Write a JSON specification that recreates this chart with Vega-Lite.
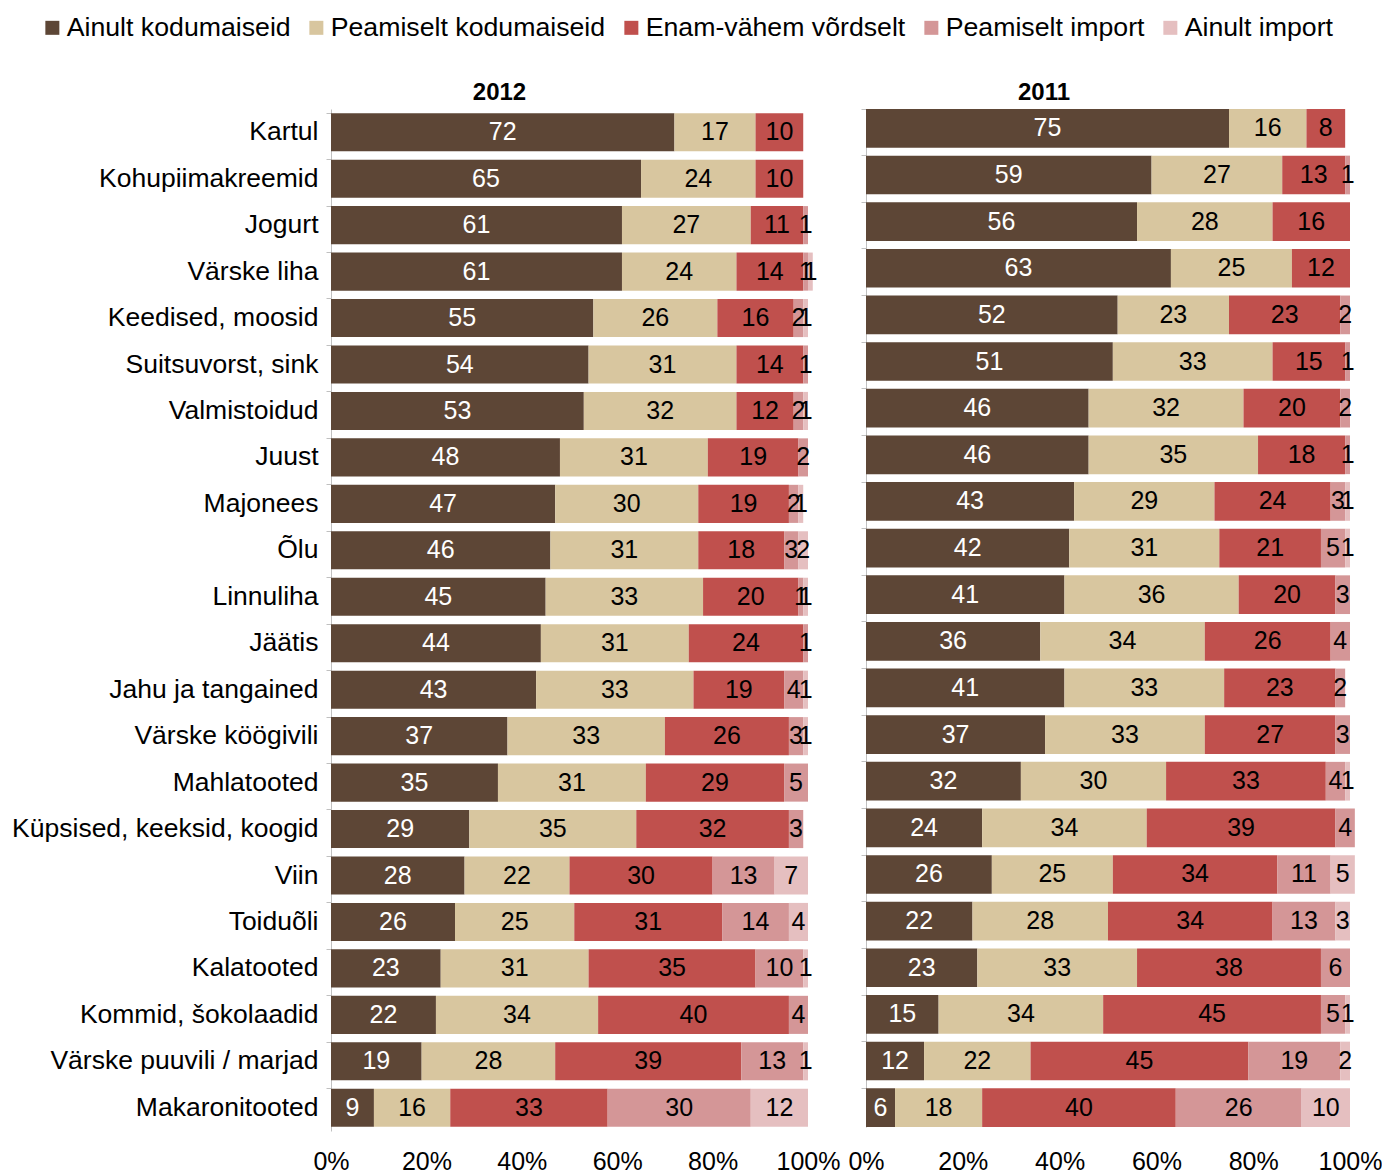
{
  "$schema": "https://vega.github.io/schema/vega-lite/v6.json",
  "padding": {"left": 0, "top": 14, "right": 0, "bottom": 0},
  "background": "white",
  "bounds": "flush",
  "datasets": {
    "d": [
      {"yr": "2012", "c": "Kartul", "k1": 72, "k2": 17, "k3": 10, "k4": 0, "k5": 0},
      {"yr": "2012", "c": "Kohupiimakreemid", "k1": 65, "k2": 24, "k3": 10, "k4": 0, "k5": 0},
      {"yr": "2012", "c": "Jogurt", "k1": 61, "k2": 27, "k3": 11, "k4": 1, "k5": 0},
      {"yr": "2012", "c": "Värske liha", "k1": 61, "k2": 24, "k3": 14, "k4": 1, "k5": 1},
      {"yr": "2012", "c": "Keedised, moosid", "k1": 55, "k2": 26, "k3": 16, "k4": 2, "k5": 1},
      {"yr": "2012", "c": "Suitsuvorst, sink", "k1": 54, "k2": 31, "k3": 14, "k4": 1, "k5": 0},
      {"yr": "2012", "c": "Valmistoidud", "k1": 53, "k2": 32, "k3": 12, "k4": 2, "k5": 1},
      {"yr": "2012", "c": "Juust", "k1": 48, "k2": 31, "k3": 19, "k4": 2, "k5": 0},
      {"yr": "2012", "c": "Majonees", "k1": 47, "k2": 30, "k3": 19, "k4": 2, "k5": 1},
      {"yr": "2012", "c": "Õlu", "k1": 46, "k2": 31, "k3": 18, "k4": 3, "k5": 2},
      {"yr": "2012", "c": "Linnuliha", "k1": 45, "k2": 33, "k3": 20, "k4": 1, "k5": 1},
      {"yr": "2012", "c": "Jäätis", "k1": 44, "k2": 31, "k3": 24, "k4": 1, "k5": 0},
      {"yr": "2012", "c": "Jahu ja tangained", "k1": 43, "k2": 33, "k3": 19, "k4": 4, "k5": 1},
      {"yr": "2012", "c": "Värske köögivili", "k1": 37, "k2": 33, "k3": 26, "k4": 3, "k5": 1},
      {"yr": "2012", "c": "Mahlatooted", "k1": 35, "k2": 31, "k3": 29, "k4": 5, "k5": 0},
      {"yr": "2012", "c": "Küpsised, keeksid, koogid", "k1": 29, "k2": 35, "k3": 32, "k4": 3, "k5": 0},
      {"yr": "2012", "c": "Viin", "k1": 28, "k2": 22, "k3": 30, "k4": 13, "k5": 7},
      {"yr": "2012", "c": "Toiduõli", "k1": 26, "k2": 25, "k3": 31, "k4": 14, "k5": 4},
      {"yr": "2012", "c": "Kalatooted", "k1": 23, "k2": 31, "k3": 35, "k4": 10, "k5": 1},
      {"yr": "2012", "c": "Kommid, šokolaadid", "k1": 22, "k2": 34, "k3": 40, "k4": 4, "k5": 0},
      {"yr": "2012", "c": "Värske puuvili / marjad", "k1": 19, "k2": 28, "k3": 39, "k4": 13, "k5": 1},
      {"yr": "2012", "c": "Makaronitooted", "k1": 9, "k2": 16, "k3": 33, "k4": 30, "k5": 12},
      {"yr": "2011", "c": "Kartul", "k1": 75, "k2": 16, "k3": 8, "k4": 0, "k5": 0},
      {"yr": "2011", "c": "Kohupiimakreemid", "k1": 59, "k2": 27, "k3": 13, "k4": 1, "k5": 0},
      {"yr": "2011", "c": "Jogurt", "k1": 56, "k2": 28, "k3": 16, "k4": 0, "k5": 0},
      {"yr": "2011", "c": "Värske liha", "k1": 63, "k2": 25, "k3": 12, "k4": 0, "k5": 0},
      {"yr": "2011", "c": "Keedised, moosid", "k1": 52, "k2": 23, "k3": 23, "k4": 2, "k5": 0},
      {"yr": "2011", "c": "Suitsuvorst, sink", "k1": 51, "k2": 33, "k3": 15, "k4": 1, "k5": 0},
      {"yr": "2011", "c": "Valmistoidud", "k1": 46, "k2": 32, "k3": 20, "k4": 2, "k5": 0},
      {"yr": "2011", "c": "Juust", "k1": 46, "k2": 35, "k3": 18, "k4": 1, "k5": 0},
      {"yr": "2011", "c": "Majonees", "k1": 43, "k2": 29, "k3": 24, "k4": 3, "k5": 1},
      {"yr": "2011", "c": "Õlu", "k1": 42, "k2": 31, "k3": 21, "k4": 5, "k5": 1},
      {"yr": "2011", "c": "Linnuliha", "k1": 41, "k2": 36, "k3": 20, "k4": 3, "k5": 0},
      {"yr": "2011", "c": "Jäätis", "k1": 36, "k2": 34, "k3": 26, "k4": 4, "k5": 0},
      {"yr": "2011", "c": "Jahu ja tangained", "k1": 41, "k2": 33, "k3": 23, "k4": 2, "k5": 0},
      {"yr": "2011", "c": "Värske köögivili", "k1": 37, "k2": 33, "k3": 27, "k4": 3, "k5": 0},
      {"yr": "2011", "c": "Mahlatooted", "k1": 32, "k2": 30, "k3": 33, "k4": 4, "k5": 1},
      {"yr": "2011", "c": "Küpsised, keeksid, koogid", "k1": 24, "k2": 34, "k3": 39, "k4": 4, "k5": 0},
      {"yr": "2011", "c": "Viin", "k1": 26, "k2": 25, "k3": 34, "k4": 11, "k5": 5},
      {"yr": "2011", "c": "Toiduõli", "k1": 22, "k2": 28, "k3": 34, "k4": 13, "k5": 3},
      {"yr": "2011", "c": "Kalatooted", "k1": 23, "k2": 33, "k3": 38, "k4": 6, "k5": 0},
      {"yr": "2011", "c": "Kommid, šokolaadid", "k1": 15, "k2": 34, "k3": 45, "k4": 5, "k5": 1},
      {"yr": "2011", "c": "Värske puuvili / marjad", "k1": 12, "k2": 22, "k3": 45, "k4": 19, "k5": 2},
      {"yr": "2011", "c": "Makaronitooted", "k1": 6, "k2": 18, "k3": 40, "k4": 26, "k5": 10}
    ]
  },
  "spacing": 58,
  "hconcat": [
    {
      "width": 477,
      "height": 1022,
      "title": {"text": "2012", "fontSize": 24, "fontWeight": "bold", "font": "Liberation Sans", "color": "black", "dx": -70, "offset": 4, "anchor": "middle", "frame": "group"},
      "data": {"name": "d"},
      "transform": [
        {"filter": "datum.yr == '2012'"},
        {"fold": ["k1", "k2", "k3", "k4", "k5"], "as": ["k", "v"]},
        {"filter": "datum.v > 0"},
        {"stack": "v", "groupby": ["c"], "sort": [{"field": "k", "order": "ascending"}], "as": ["x0", "x1"]}
      ],
      "encoding": {
        "y": {
          "field": "c", "type": "nominal",
          "sort": ["Kartul", "Kohupiimakreemid", "Jogurt", "Värske liha", "Keedised, moosid", "Suitsuvorst, sink", "Valmistoidud", "Juust", "Majonees", "Õlu", "Linnuliha", "Jäätis", "Jahu ja tangained", "Värske köögivili", "Mahlatooted", "Küpsised, keeksid, koogid", "Viin", "Toiduõli", "Kalatooted", "Kommid, šokolaadid", "Värske puuvili / marjad", "Makaronitooted"],
          "scale": {"paddingInner": 0.18, "paddingOuter": 0.09},
          "axis": {"title": null, "labelFontSize": 26.5, "labelFont": "Liberation Sans", "labelColor": "black", "labelPadding": 8, "minExtent": 331, "maxExtent": 331, "labelLimit": 400, "domainColor": "#c0c0c0", "tickColor": "#c0c0c0", "tickSize": 5, "bandPosition": 0}
        }
      },
      "layer": [
        {
          "mark": {"type": "bar"},
          "encoding": {
            "x": {"field": "x0", "type": "quantitative", "scale": {"domain": [0, 100], "nice": false},
              "axis": {"title": null, "grid": false, "domain": false, "ticks": false, "labelFontSize": 25, "labelFont": "Liberation Sans", "labelColor": "black", "labelPadding": 18, "values": [0, 20, 40, 60, 80, 100], "labelExpr": "datum.value + '%'", "labelFlush": false, "labelOverlap": false}},
            "x2": {"field": "x1"},
            "color": {
              "field": "k", "type": "nominal",
              "scale": {"domain": ["k1", "k2", "k3", "k4", "k5"], "range": ["#5D4636", "#D8C69F", "#C0504D", "#D49697", "#E5BFC0"]},
              "legend": {"labelExpr": "{'k1':'Ainult kodumaiseid','k2':'Peamiselt kodumaiseid','k3':'Enam-vähem võrdselt','k4':'Peamiselt import','k5':'Ainult import'}[datum.value]"}
            }
          }
        },
        {
          "transform": [
            {"fold": ["x0", "x1"], "as": ["edge", "pos"]},
            {"aggregate": [{"op": "mean", "field": "pos", "as": "mid"}], "groupby": ["c", "k", "v"]}
          ],
          "mark": {"type": "text", "fontSize": 25, "font": "Liberation Sans"},
          "encoding": {
            "x": {"field": "mid", "type": "quantitative"},
            "text": {"field": "v", "type": "quantitative"},
            "color": {"condition": {"test": "datum.k == 'k1'", "value": "white"}, "value": "black"}
          }
        }
      ]
    },
    {
      "width": 484,
      "height": 1018,
      "title": {"text": "2011", "fontSize": 24, "fontWeight": "bold", "font": "Liberation Sans", "color": "black", "dx": -64, "offset": 4, "anchor": "middle", "frame": "group"},
      "data": {"name": "d"},
      "transform": [
        {"filter": "datum.yr == '2011'"},
        {"fold": ["k1", "k2", "k3", "k4", "k5"], "as": ["k", "v"]},
        {"filter": "datum.v > 0"},
        {"stack": "v", "groupby": ["c"], "sort": [{"field": "k", "order": "ascending"}], "as": ["x0", "x1"]}
      ],
      "encoding": {
        "y": {
          "field": "c", "type": "nominal",
          "sort": ["Kartul", "Kohupiimakreemid", "Jogurt", "Värske liha", "Keedised, moosid", "Suitsuvorst, sink", "Valmistoidud", "Juust", "Majonees", "Õlu", "Linnuliha", "Jäätis", "Jahu ja tangained", "Värske köögivili", "Mahlatooted", "Küpsised, keeksid, koogid", "Viin", "Toiduõli", "Kalatooted", "Kommid, šokolaadid", "Värske puuvili / marjad", "Makaronitooted"],
          "scale": {"paddingInner": 0.17, "paddingOuter": 0.0},
          "axis": {"title": null, "labels": false, "minExtent": 0, "domainColor": "#c0c0c0", "tickColor": "#c0c0c0", "tickSize": 5, "bandPosition": 0}
        }
      },
      "layer": [
        {
          "mark": {"type": "bar"},
          "encoding": {
            "x": {"field": "x0", "type": "quantitative", "scale": {"domain": [0, 100], "nice": false},
              "axis": {"title": null, "grid": false, "domain": false, "ticks": false, "labelFontSize": 25, "labelFont": "Liberation Sans", "labelColor": "black", "labelPadding": 22, "values": [0, 20, 40, 60, 80, 100], "labelExpr": "datum.value + '%'", "labelFlush": false, "labelOverlap": false}},
            "x2": {"field": "x1"},
            "color": {
              "field": "k", "type": "nominal",
              "scale": {"domain": ["k1", "k2", "k3", "k4", "k5"], "range": ["#5D4636", "#D8C69F", "#C0504D", "#D49697", "#E5BFC0"]},
              "legend": {"labelExpr": "{'k1':'Ainult kodumaiseid','k2':'Peamiselt kodumaiseid','k3':'Enam-vähem võrdselt','k4':'Peamiselt import','k5':'Ainult import'}[datum.value]"}
            }
          }
        },
        {
          "transform": [
            {"fold": ["x0", "x1"], "as": ["edge", "pos"]},
            {"aggregate": [{"op": "mean", "field": "pos", "as": "mid"}], "groupby": ["c", "k", "v"]}
          ],
          "mark": {"type": "text", "fontSize": 25, "font": "Liberation Sans"},
          "encoding": {
            "x": {"field": "mid", "type": "quantitative"},
            "text": {"field": "v", "type": "quantitative"},
            "color": {"condition": {"test": "datum.k == 'k1'", "value": "white"}, "value": "black"}
          }
        }
      ]
    }
  ],
  "config": {
    "view": {"stroke": null},
    "font": "Liberation Sans",
    "legend": {
      "orient": "none", "legendX": -292, "legendY": -95, "direction": "horizontal",
      "title": null, "symbolType": "square", "symbolSize": 196, "symbolStrokeWidth": 0, "symbolOpacity": 1,
      "labelFontSize": 26.7, "labelFont": "Liberation Sans", "labelColor": "black", "labelOffset": 1, "columnPadding": 12, "labelLimit": 500
    }
  }
}
